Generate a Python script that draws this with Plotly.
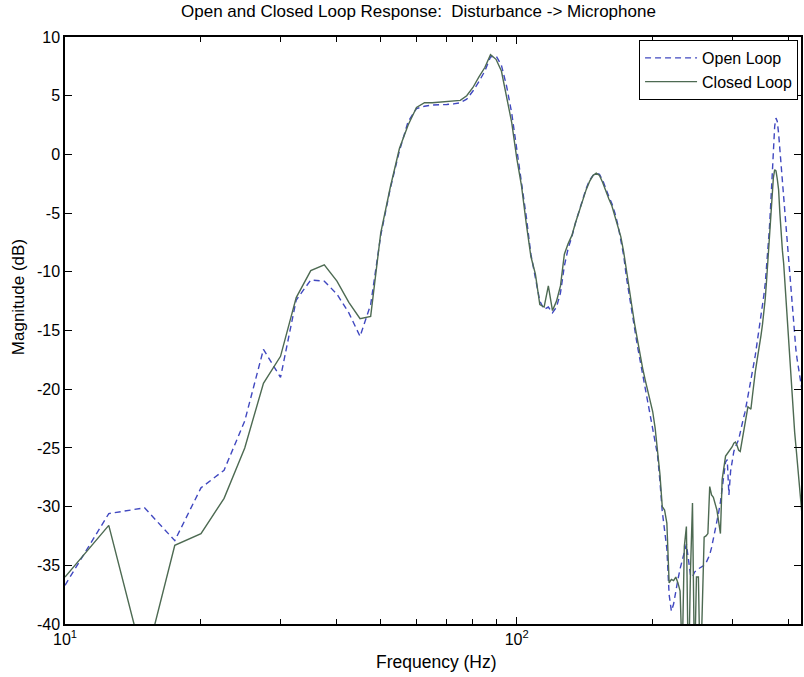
import plotly.graph_objects as go

# Frequency grid (Hz)
freq = [
    10, 12.5, 15, 17.5, 20, 22.5, 25, 27.5,
    30, 32.5, 35, 37.5, 40, 42.5, 45, 47.5,
    50, 52.5, 55, 57.5, 60, 62.5, 65, 67.5,
    70, 72.5, 75, 77.5, 80, 82.5, 85, 87.5,
    90, 92.5, 95, 97.5, 100, 102.5, 105, 107.5,
    110, 112.5, 115, 117.5, 120, 122.5, 125, 127.5,
    130, 132.5, 135, 137.5, 140, 142.5, 145, 147.5,
    150, 152.5, 155, 157.5, 160, 162.5, 165, 167.5,
    170, 172.5, 175, 177.5, 180, 182.5, 185, 187.5,
    190, 192.5, 195, 197.5, 200, 202.5, 205, 207.5,
    210, 212.5, 215, 217.5, 220, 222.5, 225, 227.5,
    230, 232.5, 235, 237.5, 240, 242.5, 245, 247.5,
    250, 252.5, 255, 257.5, 260, 262.5, 265, 267.5,
    270, 272.5, 275, 277.5, 280, 282.5, 285, 287.5,
    290, 292.5, 295, 297.5, 300, 302.5, 305, 307.5,
    310, 312.5, 315, 317.5, 320, 322.5, 325, 327.5,
    330, 332.5, 335, 337.5, 340, 342.5, 345, 347.5,
    350, 352.5, 355, 357.5, 360, 362.5, 365, 367.5,
    370, 372.5, 375, 377.5, 380, 382.5, 385, 387.5,
    390, 392.5, 395, 397.5, 400, 402.5, 405, 407.5,
    410, 412.5, 415, 417.5, 420, 422.5, 425, 427.5,
    430,
]

# Open loop magnitude (dB)
open_loop = [
    -36.7, -30.6, -30.1, -32.9, -28.4, -26.9, -22.7, -16.6,
    -19.0, -12.4, -10.7, -10.8, -11.9, -13.5, -15.5, -12.8,
    -6.9, -2.9, 0.3, 2.8, 3.9, 4.1, 4.2, 4.2,
    4.25, 4.3, 4.4, 4.7, 5.4, 6.2, 7.1, 8.3,
    8.4, 7.6, 5.8, 3.5, 0.5, -2.0, -5.3, -8.5,
    -10.5, -12.5, -13.2, -13.0, -13.5, -13.0, -11.8, -9.5,
    -8.0, -7.0, -5.8, -4.8, -3.8, -2.9, -2.2, -1.8,
    -1.6, -1.7, -2.2, -3.0, -3.6, -4.2, -5.0, -6.0,
    -7.2, -8.6, -10.5, -12.0, -13.6, -15.0, -16.3, -17.5,
    -18.7, -19.8, -21.0, -21.9, -23.2, -24.4, -25.6, -27.8,
    -30.4, -32.0, -33.6, -37.5, -38.9, -38.3, -37.4, -36.2,
    -35.3, -34.5, -33.8, -33.2, -34.5, -35.8, -36.0, -35.6,
    -35.4, -35.3, -35.2, -35.1, -35.0, -34.8, -34.5, -34.1,
    -33.5, -32.8, -32.0, -31.3, -30.5, -29.6, -28.4, -27.2,
    -26.2, -26.0, -29.0, -27.0, -26.0, -25.3, -24.9, -24.6,
    -24.3, -23.7, -23.0, -22.5, -22.0, -21.2, -20.3, -19.9,
    -19.2, -18.6, -17.8, -17.1, -16.3, -15.5, -14.7, -13.8,
    -12.9, -12.0, -11.0, -9.7, -8.2, -6.4, -4.3, -1.8,
    0.7, 2.4, 3.1, 2.8, 1.8, 0.4, -1.2, -2.5,
    -3.8, -5.3, -6.8, -8.1, -9.5, -10.8, -12.0, -13.4,
    -14.8, -15.8, -16.6, -17.4, -18.2, -18.8, -19.3, -19.9,
    -20.5,
]

# Closed loop magnitude (dB)
closed_loop = [
    -36.0, -31.6, -43.5, -33.3, -32.3, -29.3, -25.0, -19.5,
    -17.2, -12.2, -9.9, -9.4, -10.8, -12.6, -14.0, -13.8,
    -6.7, -2.8, 0.5, 2.5, 4.0, 4.4, 4.4, 4.45,
    4.5, 4.55, 4.6, 5.0, 5.7, 6.6, 7.4, 8.5,
    8.1, 7.1, 5.0, 2.7, -0.3, -2.7, -5.9, -8.7,
    -10.2, -12.8, -13.0, -11.2, -13.3, -12.5, -11.2, -8.5,
    -7.6, -6.9, -5.8, -4.8, -3.9, -3.0, -2.3, -1.8,
    -1.6, -1.8, -2.4, -3.2, -3.8, -4.4, -5.3, -6.2,
    -7.0, -8.3, -10.0, -11.5, -13.0, -14.5, -15.8, -17.0,
    -18.2, -19.2, -20.1, -21.0, -21.9, -23.3, -25.3, -27.2,
    -30.0, -30.3, -31.4, -36.5, -36.2, -36.3, -36.0, -36.5,
    -37.2, -43.0, -33.4, -31.7, -45.0, -35.5, -29.7, -44.0,
    -36.0, -36.0, -45.0, -38.0, -32.6, -32.5, -32.3, -28.3,
    -29.0, -29.2, -29.8, -30.3, -31.3, -32.3, -27.7, -26.8,
    -25.7, -25.5, -25.3, -25.0, -24.9, -24.6, -24.5, -24.8,
    -25.2, -25.3, -24.5, -23.8, -23.2, -22.3, -21.5, -21.6,
    -21.7, -20.6, -19.4, -18.5, -17.7, -17.0, -16.3, -15.4,
    -14.5, -13.5, -12.3, -10.7, -9.0, -7.2, -5.3, -3.5,
    -2.0, -1.3, -1.4, -2.1, -3.0, -5.0, -7.0, -8.2,
    -9.3, -11.0, -12.6, -14.2, -15.8, -17.5, -19.3, -21.0,
    -22.5, -23.7, -24.8, -25.9, -27.0, -28.2, -29.5, -30.5,
    -31.5,
]

x_major_ticks = [10, 100]
x_major_labels = ["10<sup>1</sup>", "10<sup>2</sup>"]
x_minor_ticks = [20, 30, 40, 50, 60, 70, 80, 90, 200, 300, 400]
y_ticks = [-40, -35, -30, -25, -20, -15, -10, -5, 0, 5, 10]
y_tick_labels = ["-40", "-35", "-30", "-25", "-20", "-15", "-10", "-5",
                 "0", "5", "10"]

assert len(freq) == len(open_loop) == len(closed_loop)

FONT = "Liberation Sans, Arial, sans-serif"
X_RANGE = [1, 2.6294]

fig = go.Figure()
fig.add_trace(go.Scatter(
    x=freq, y=open_loop, mode="lines", name="Open Loop",
    line=dict(color="#4048c0", width=1.4, dash="6px,4px"),
))
fig.add_trace(go.Scatter(
    x=freq, y=closed_loop, mode="lines", name="Closed Loop",
    xaxis="x2", yaxis="y",
    line=dict(color="#4d6a52", width=1.4),
))

axis_common = dict(
    showline=True, linecolor="black", linewidth=1.5, mirror="ticks",
    ticks="inside", tickcolor="black", tickwidth=1, showgrid=False,
    zeroline=False, tickfont=dict(family=FONT, size=16, color="black"),
)

fig.update_layout(
    width=804, height=677,
    margin=dict(l=65, r=1, t=37, b=53),
    paper_bgcolor="white", plot_bgcolor="white",
    font=dict(family=FONT, color="black"),
    showlegend=True,
    legend=dict(
        x=0.996, y=0.995, xanchor="right", yanchor="top",
        bordercolor="black", borderwidth=1, bgcolor="white",
        font=dict(family=FONT, size=16, color="black"),
        tracegroupgap=0, itemwidth=52,
    ),
    xaxis=dict(
        type="log", range=X_RANGE,
        tickmode="array", tickvals=x_major_ticks, ticktext=x_major_labels,
        ticklen=7,
        **axis_common,
    ),
    xaxis2=dict(
        type="log", range=X_RANGE, overlaying="x", anchor="y", side="bottom",
        tickmode="array", tickvals=x_minor_ticks, showticklabels=False,
        ticks="inside", ticklen=5, tickcolor="black", tickwidth=1,
        showline=False, mirror="ticks", showgrid=False, zeroline=False,
    ),
    yaxis=dict(
        range=[-40, 10], tickmode="array", tickvals=y_ticks,
        ticktext=y_tick_labels, ticklen=7,
        **axis_common,
    ),
    annotations=[
        dict(text="Open and Closed Loop Response:  Disturbance -> Microphone",
             xref="paper", yref="paper", x=0.4797, y=1.0426,
             xanchor="center", yanchor="middle", showarrow=False,
             font=dict(family=FONT, size=17, color="black")),
        dict(text="Frequency (Hz)", xref="paper", yref="paper",
             x=0.5054, y=-0.0647, xanchor="center", yanchor="middle",
             showarrow=False, font=dict(family=FONT, size=17.5, color="black")),
        dict(text="Magnitude (dB)", xref="paper", yref="paper",
             x=-0.0637, y=0.557, xanchor="center", yanchor="middle",
             textangle=-90, showarrow=False,
             font=dict(family=FONT, size=17, color="black")),
    ],
)

fig.write_html("out.html")
